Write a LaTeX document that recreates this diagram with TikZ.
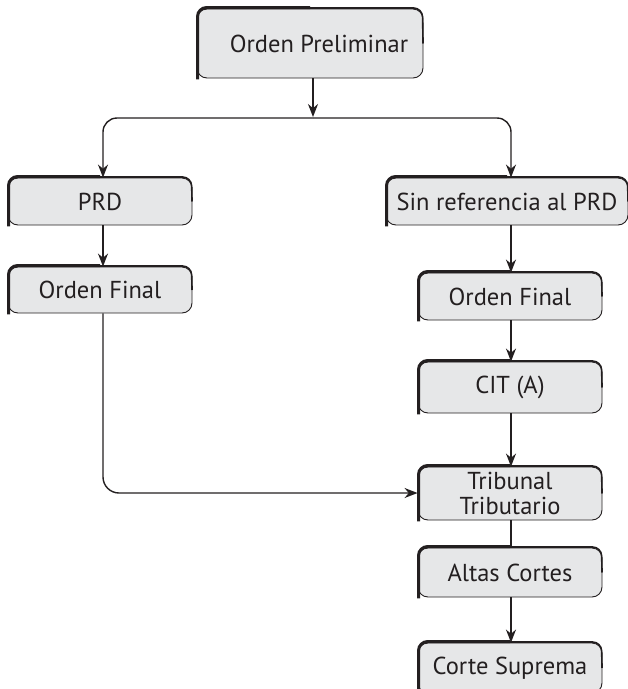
\documentclass[tikz,border=0pt]{standalone}
\usepackage{fontspec}
\setmainfont{PT Sans}
\usetikzlibrary{arrows.meta,calc}
\definecolor{boxfill}{HTML}{E6E7E8}
\definecolor{ink}{HTML}{231F20}
\tikzset{
  x=1pt,y=-1pt,
  fbox/.style={draw=ink,line width=0.9pt,fill=boxfill,rounded corners=10pt,
    minimum width=184pt,inner sep=0pt,align=center,text=ink,
    font=\fontsize{24.5}{26}\selectfont},
  conn/.style={draw=ink,line width=1.4pt},
  arr/.style={conn,-{Stealth[length=13pt,width=10pt]}},
}
\newcommand{\thickedge}[1]{%
  \draw[ink,line width=3pt,rounded corners=9pt]
    ($(#1.south west)+(1pt,-1pt)$) -- ($(#1.north west)+(1pt,1pt)$) -- ($(#1.north)+(0,1pt)$);
  \draw[ink,line width=1.6pt,rounded corners=9pt]
    ($(#1.north)+(0,0.6pt)$) -- ($(#1.north east)+(-1pt,0.6pt)$) -- ($(#1.east)+(-0.4pt,0)$);
}
\begin{document}
\begin{tikzpicture}
\useasboundingbox (0,0) rectangle (628,689);
\clip (0,0) rectangle (628,689);
\node[fbox,minimum width=226pt,minimum height=69pt] (pre) at (310,43.5) {\hspace*{18pt}Orden Preliminar};
\node[fbox,minimum height=47pt] (prd) at (100,201.5) {PRD};
\node[fbox,minimum height=46pt] (of1) at (100,290) {Orden Final};
\node[fbox,minimum width=242pt,minimum height=47pt] (sin) at (507,201.5) {Sin referencia al PRD};
\node[fbox,minimum height=47pt] (of2) at (510,296.5) {Orden Final};
\node[fbox,minimum height=51pt] (cit) at (510,387.5) {CIT (A)};
\node[fbox,minimum height=53pt,font=\fontsize{24.5}{25}\selectfont] (trib) at (510,493.5) {Tribunal\\Tributario};
\node[fbox,minimum height=49pt] (alt) at (510,572.5) {Altas Cortes};
\node[fbox,minimum height=50pt] (cor) at (510,668) {Corte Suprema};
\foreach \n in {pre,prd,of1,sin,of2,cit,trib,alt,cor} {\thickedge{\n}}
\coordinate (split) at (313,118);
\draw[arr] (pre.south -| split) -- ($(split)+(0,-1)$);
\draw[arr,rounded corners=14pt] (313,118) -- (511,118) -- (sin.north -| 511,0);
\draw[arr,rounded corners=14pt] (313,118) -- (103,118) -- (prd.north -| 103,0);
\draw[arr] (prd.south -| 103,0) -- (of1.north -| 103,0);
\draw[arr,rounded corners=16pt] (of1.south -| 103,0) -- (103,493) -- (trib.west |- 0,493);
\draw[arr] (sin.south -| 511,0) -- (of2.north -| 511,0);
\draw[arr] (of2.south -| 511,0) -- (cit.north -| 511,0);
\draw[arr] (cit.south -| 511,0) -- (trib.north -| 511,0);
\draw[conn] (trib.south -| 511,0) -- (alt.north -| 511,0);
\draw[arr] (alt.south -| 511,0) -- (cor.north -| 511,0);
\end{tikzpicture}
\end{document}
